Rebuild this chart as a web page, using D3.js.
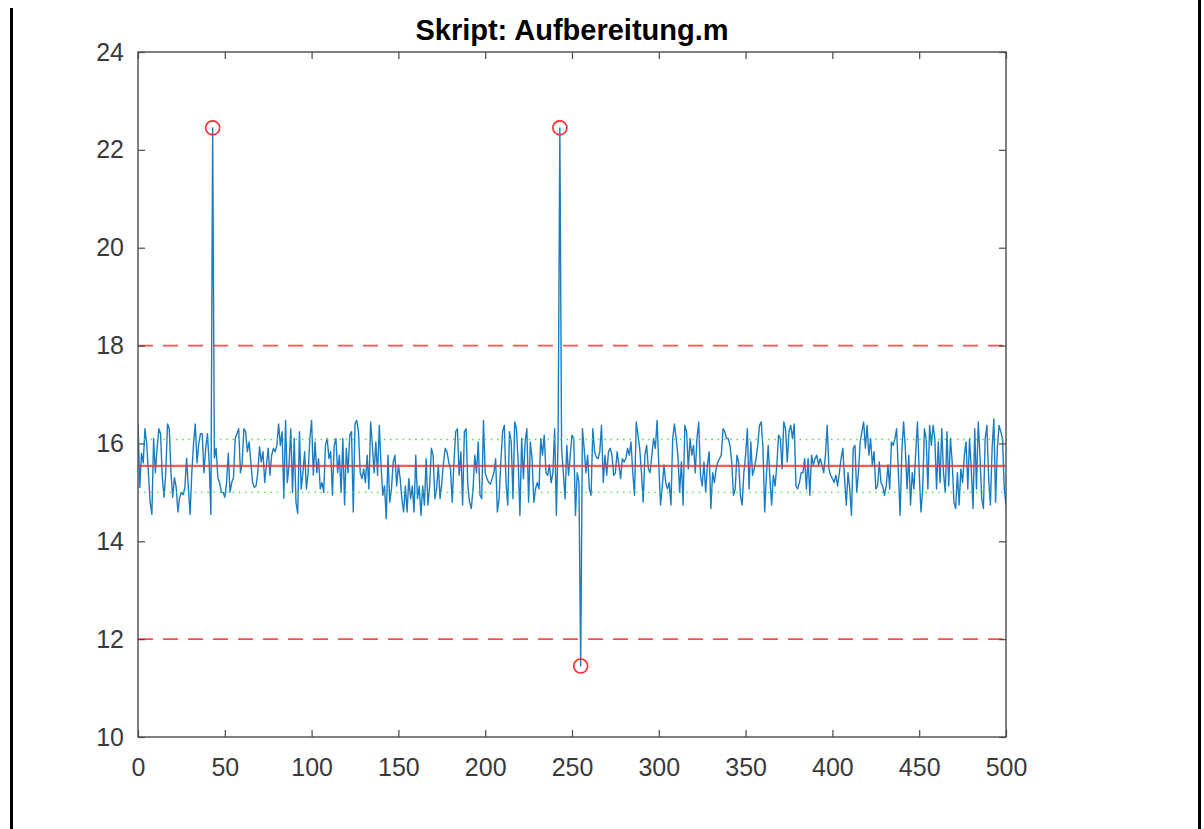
<!DOCTYPE html>
<html>
<head>
<meta charset="utf-8">
<script src="https://cdn.jsdelivr.net/npm/d3@7"></script>
<style>
  html, body { margin: 0; padding: 0; background: #fff; }
  svg { display: block; }
  .tick text { font-family: "Liberation Sans", Arial, Helvetica, sans-serif; }
</style>
</head>
<body>
<svg id="chart" width="1204" height="829"></svg>
<script>
// signal samples (index = sample number)
const signal = [
  16.4,15.1,15.8,15.6,16.3,16.0,15.4,14.8,14.55,16.1, 15.4,15.9,16.3,16.2,15.3,14.9,15.4,16.4,16.3,15.4,
  14.9,15.3,15.1,14.6,14.9,15.0,14.95,15.1,15.7,15.1, 14.55,15.4,16.0,16.4,15.6,16.0,16.2,16.2,15.4,15.9,
  16.2,15.6,14.55,22.45,15.7,15.9,15.3,15.2,15.0,15.0, 14.9,15.2,15.8,15.0,15.2,15.3,16.1,16.2,16.3,15.4,
  15.6,16.3,16.24,15.83,16.03,15.62,15.2,15.1,15.13,15.4, 15.93,15.62,15.83,15.2,15.56,15.9,15.35,15.76,15.9,15.83,
  15.96,16.4,15.96,16.24,14.88,16.47,15.2,15.56,16.3,15.0, 16.1,14.8,14.57,16.24,15.07,15.4,15.83,15.07,15.4,16.1,
  16.47,15.35,16.03,15.4,15.69,15.07,15.2,15.0,15.96,16.1, 15.69,15.83,14.94,15.96,16.1,15.4,15.76,15.0,16.1,14.74,
  15.9,15.4,16.17,16.24,14.6,16.4,16.47,16.24,15.4,15.28, 15.48,15.2,15.76,15.07,16.44,15.96,15.4,16.03,15.35,16.37,
  15.56,14.94,15.13,14.46,15.76,14.8,15.07,15.62,15.76,15.13, 15.56,15.28,14.87,14.6,15.13,14.6,15.28,14.87,15.13,14.6,
  15.76,14.87,15.13,14.53,15.13,14.74,15.69,14.74,15.13,15.9, 15.76,14.87,15.07,15.56,14.87,15.2,15.62,15.9,15.83,15.62,
  15.48,14.8,15.62,16.24,16.3,15.35,15.83,14.74,16.24,16.3, 15.13,14.8,14.67,15.07,15.76,15.4,16.03,14.94,14.87,16.47,
  15.4,15.28,15.2,15.17,15.28,15.4,15.69,14.6,14.87,15.62, 16.24,16.37,15.2,14.74,16.24,16.03,14.87,16.44,16.3,15.62,
  14.53,16.1,15.28,16.03,16.3,14.8,16.03,15.69,14.8,15.07, 15.2,15.07,16.1,15.76,16.17,15.4,15.35,15.56,15.2,15.4,
  16.3,14.53,16.1,22.45,15.9,15.4,14.87,15.96,15.35,15.76, 16.17,16.1,14.53,15.4,15.2,11.45,16.3,15.9,15.4,15.76,
  15.07,14.94,16.3,15.83,15.72,15.69,15.83,16.37,15.2,15.76, 15.35,15.83,15.9,15.76,15.35,15.4,15.83,15.56,15.28,15.69,
  15.62,15.69,15.9,15.76,16.03,15.4,14.94,16.44,16.17,15.9, 15.4,14.8,15.76,15.96,15.48,15.4,15.76,16.1,15.9,16.47,
  15.56,14.74,15.13,15.56,15.2,15.07,15.2,14.74,16.1,16.4, 16.1,15.76,15.0,15.62,14.74,16.37,16.24,15.48,16.1,15.76,
  15.96,15.4,16.1,16.44,15.35,15.13,15.62,15.0,15.56,15.83, 14.67,15.4,15.2,15.48,15.62,15.69,15.76,16.3,16.24,16.1,
  16.1,15.96,15.62,14.94,15.07,15.76,15.62,14.94,14.74,15.4, 15.76,16.3,15.07,16.03,15.35,15.48,15.69,15.96,16.37,16.44,
  15.9,14.6,15.35,15.96,15.28,14.74,15.35,15.13,15.56,16.17, 16.1,15.48,16.44,16.3,15.62,16.24,16.37,16.1,16.4,15.13,
  15.07,15.2,15.4,15.4,15.69,15.07,15.69,14.94,15.76,15.56, 15.69,15.76,15.56,15.69,15.56,15.4,15.76,16.37,15.48,15.35,
  15.28,15.2,15.35,15.13,15.4,15.69,15.9,15.28,14.74,15.4, 15.07,14.53,15.9,15.96,15.0,15.4,16.03,16.24,16.44,15.9,
  16.37,15.76,16.1,15.56,15.83,15.07,15.13,15.62,15.2,15.13, 14.94,15.13,15.56,15.07,16.03,15.96,16.1,16.3,15.4,14.53,
  15.83,16.44,15.9,15.07,15.76,14.74,15.4,15.07,15.83,16.44, 15.4,14.6,15.07,16.3,16.1,15.07,16.37,15.96,16.37,16.1,
  15.07,16.03,15.2,16.3,15.4,15.0,16.24,15.13,16.1,15.62, 14.8,14.67,15.4,14.74,15.48,15.2,15.76,16.03,15.07,16.1,
  15.48,14.67,16.3,15.07,16.44,15.76,14.87,14.67,16.1,16.37, 15.28,14.74,15.9,16.5,14.8,15.9,16.37,16.24,16.1,15.07,
  14.74
];
const outlierIdx = [43, 243, 255];
const meanLine = [15.54];
const sigmaLines = [15.0, 16.08];
const limitLines = [12, 18];
const xTicks = [0, 50, 100, 150, 200, 250, 300, 350, 400, 450, 500];
const yTicks = [10, 12, 14, 16, 18, 20, 22, 24];
const title = "Skript: Aufbereitung.m";

const margin = { top: 52, right: 198, bottom: 92, left: 138 };
const W = 1204, H = 829;
const innerW = W - margin.left - margin.right;
const innerH = H - margin.top - margin.bottom;

const svg = d3.select("#chart");

// outer frame lines of the figure window
svg.append("line").attr("x1", 11.5).attr("x2", 11.5).attr("y1", 8).attr("y2", H)
  .attr("stroke", "#000").attr("stroke-width", 3);
svg.append("line").attr("x1", 1199.5).attr("x2", 1199.5).attr("y1", 0).attr("y2", H)
  .attr("stroke", "#000").attr("stroke-width", 3);

const g = svg.append("g").attr("transform", `translate(${margin.left},${margin.top})`);

const x = d3.scaleLinear().domain([0, 500]).range([0, innerW]);
const y = d3.scaleLinear().domain([10, 24]).range([innerH, 0]);

g.append("defs").append("clipPath").attr("id", "clip")
  .append("rect").attr("width", innerW).attr("height", innerH);

const plot = g.append("g").attr("clip-path", "url(#clip)");

// signal
const line = d3.line().x((d, i) => x(i)).y(d => y(d));
plot.append("path").datum(signal)
  .attr("fill", "none")
  .attr("stroke", "#1a7cc4")
  .attr("stroke-width", 1.4)
  .attr("stroke-linejoin", "round")
  .attr("d", line);

// mean +- std band (green dotted)
plot.selectAll(".sigma").data(sigmaLines).enter().append("line")
  .attr("x1", 0).attr("x2", innerW)
  .attr("y1", d => y(d)).attr("y2", d => y(d))
  .attr("stroke", "#33ee33").attr("stroke-width", 1.4)
  .attr("stroke-dasharray", "1.5,4.8");

// mean (red solid)
plot.selectAll(".mean").data(meanLine).enter().append("line")
  .attr("x1", 0).attr("x2", innerW)
  .attr("y1", d => y(d)).attr("y2", d => y(d))
  .attr("stroke", "#ff3030").attr("stroke-opacity", 0.8).attr("stroke-width", 2.2);

// limits (red dashed)
plot.selectAll(".limit").data(limitLines).enter().append("line")
  .attr("x1", 0).attr("x2", innerW)
  .attr("y1", d => y(d)).attr("y2", d => y(d))
  .attr("stroke", "#ff3a3a").attr("stroke-opacity", 0.9).attr("stroke-width", 1.8)
  .attr("stroke-dasharray", "15,10");

// outlier markers
g.selectAll(".outlier").data(outlierIdx).enter().append("circle")
  .attr("cx", d => x(d)).attr("cy", d => y(signal[d]))
  .attr("r", 7)
  .attr("fill", "none")
  .attr("stroke", "#ff2a2a")
  .attr("stroke-width", 1.6);

// axes
const axisColor = "#4a4a4a";
function styleAxis(sel, showText) {
  sel.select(".domain").remove();
  sel.selectAll(".tick line").attr("stroke", axisColor).attr("stroke-width", 1.2);
  sel.selectAll(".tick text")
    .attr("fill", "#3a3a3a")
    .style("font-size", "25px")
    .style("display", showText ? null : "none");
}

g.append("g").attr("transform", `translate(0,${innerH})`)
  .call(d3.axisBottom(x).tickValues(xTicks).tickSize(-7).tickPadding(21))
  .call(s => styleAxis(s, true));
g.append("g")
  .call(d3.axisTop(x).tickValues(xTicks).tickSize(-7))
  .call(s => styleAxis(s, false));
g.append("g")
  .call(d3.axisLeft(y).tickValues(yTicks).tickSize(-7).tickPadding(14))
  .call(s => styleAxis(s, true));
g.append("g").attr("transform", `translate(${innerW},0)`)
  .call(d3.axisRight(y).tickValues(yTicks).tickSize(-7))
  .call(s => styleAxis(s, false));

// box
g.append("rect")
  .attr("x", 0).attr("y", 0).attr("width", innerW).attr("height", innerH)
  .attr("fill", "none").attr("stroke", axisColor).attr("stroke-width", 1.4);

// title
svg.append("text")
  .attr("x", margin.left + innerW / 2)
  .attr("y", 40)
  .attr("text-anchor", "middle")
  .attr("font-family", "'Liberation Sans', Arial, Helvetica, sans-serif")
  .attr("font-weight", "bold")
  .attr("font-size", 29)
  .attr("fill", "#000")
  .text(title);
</script>
</body>
</html>
